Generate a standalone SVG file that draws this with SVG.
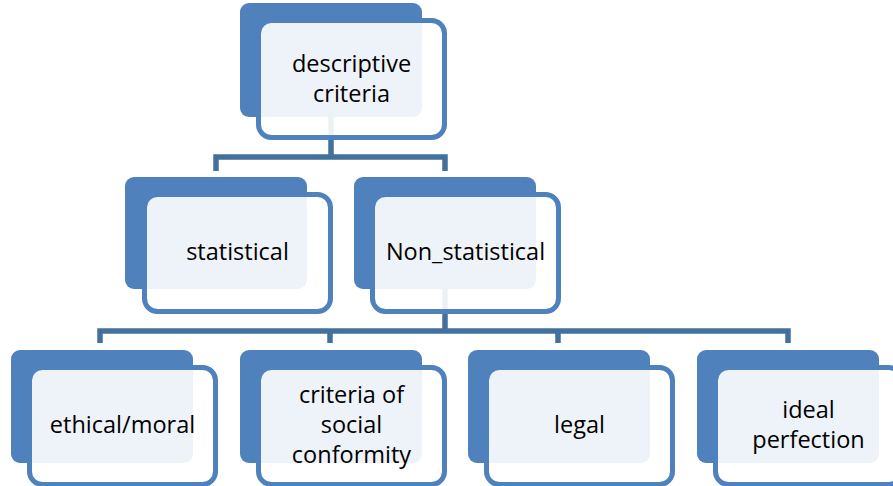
<svg xmlns="http://www.w3.org/2000/svg" width="893" height="486" viewBox="0 0 893 486">
<style>
.back{fill:#4F81BD}
.front{fill:#fff;fill-opacity:0.9;stroke:#4F81BD;stroke-width:5}
.conn{fill:none;stroke:#41719C;stroke-width:5.5;stroke-linejoin:miter}
text{font-family:"Open Sans","Liberation Sans",sans-serif;font-size:23.5px;fill:#000;text-anchor:middle}
</style>
<rect width="893" height="486" fill="#fff"/>
<g id="connectors">
<path class="conn" d="M331 117V157M216 171V157H445V171"/>
<path class="conn" d="M445 289V331M100 343V331H788V343M330 331V343M558 331V343"/>
</g>
<g id="n-descriptive">
<rect class="back" x="240" y="3" width="182" height="114" rx="9"/>
<rect class="front" x="258.5" y="20.5" width="186" height="117" rx="13"/>
<text x="351.5" y="72">descriptive</text>
<text x="351.5" y="101.5">criteria</text>
</g>
<g id="n-statistical">
<rect class="back" x="125" y="177" width="182" height="112" rx="9"/>
<rect class="front" x="144.5" y="194.5" width="186" height="117" rx="13"/>
<text x="237.5" y="260">statistical</text>
</g>
<g id="n-nonstatistical">
<rect class="back" x="354" y="177" width="182" height="112" rx="9"/>
<rect class="front" x="372.5" y="194.5" width="186" height="117" rx="13"/>
<text x="465.5" y="260">Non_statistical</text>
</g>
<g id="n-ethical">
<rect class="back" x="11" y="350" width="182" height="113" rx="9"/>
<rect class="front" x="29.5" y="367.5" width="186" height="117" rx="13"/>
<text x="122.5" y="433">ethical/moral</text>
</g>
<g id="n-social">
<rect class="back" x="240" y="350" width="182" height="113" rx="9"/>
<rect class="front" x="258.5" y="367.5" width="186" height="117" rx="13"/>
<text x="351.5" y="403">criteria of</text>
<text x="351.5" y="433">social</text>
<text x="351.5" y="463">conformity</text>
</g>
<g id="n-legal">
<rect class="back" x="468" y="350" width="182" height="113" rx="9"/>
<rect class="front" x="486.5" y="367.5" width="186" height="117" rx="13"/>
<text x="579.5" y="433">legal</text>
</g>
<g id="n-ideal">
<rect class="back" x="697" y="350" width="182" height="113" rx="9"/>
<rect class="front" x="715.5" y="367.5" width="186" height="117" rx="13"/>
<text x="808.5" y="418">ideal</text>
<text x="808.5" y="447.5">perfection</text>
</g>
</svg>
